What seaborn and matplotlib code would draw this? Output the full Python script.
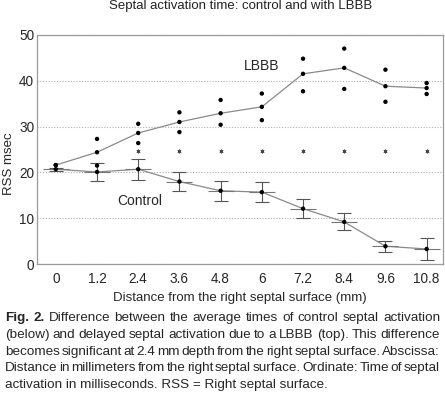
import numpy as np
import pandas as pd
import matplotlib
matplotlib.use("Agg")
import matplotlib.pyplot as plt
import seaborn as sns

sns.set_style("white")
plt.rcParams["font.family"] = ["Liberation Sans", "DejaVu Sans"]

# distance from right septal surface (mm)
distance = [0, 1.2, 2.4, 3.6, 4.8, 6, 7.2, 8.4, 9.6, 10.8]
tick_labels = ["0", "1.2", "2.4", "3.6", "4.8", "6", "7.2", "8.4", "9.6", "10.8"]

# LBBB individual values (three per depth) and mean
lbbb_high = [21.6, 27.3, 30.6, 33.1, 35.8, 37.2, 44.8, 47.0, 42.4, 39.5]
lbbb_mean = [21.6, 24.4, 28.6, 31.0, 32.9, 34.3, 41.5, 42.8, 38.8, 38.4]
lbbb_low = [21.6, 21.5, 26.4, 28.8, 30.4, 31.4, 37.7, 38.2, 35.4, 37.1]

# control mean and error
ctrl_mean = [20.7, 20.1, 20.7, 18.0, 16.0, 15.7, 12.1, 9.2, 3.9, 3.3]
ctrl_err = [0.3, 2.05, 2.3, 2.1, 2.2, 2.25, 2.0, 1.85, 1.15, 2.4]

# significance marks
star_distance = [2.4, 3.6, 4.8, 6, 7.2, 8.4, 9.6, 10.8]
star_level = [24.7] * len(star_distance)

dots = pd.DataFrame({
    "x": distance * 3,
    "y": lbbb_high + lbbb_mean + lbbb_low,
})

fig = plt.figure(figsize=(4.45, 3.96), dpi=100)
ax = fig.add_axes([0.083, 0.333, 0.912, 0.579])

ax.yaxis.grid(True, linestyle=(0, (1, 1.5)), color="#b0b0b0", linewidth=0.8)
ax.set_axisbelow(True)

sns.lineplot(x=distance, y=lbbb_mean, ax=ax, color="#8a8a8a", linewidth=0.9)
sns.lineplot(x=distance, y=ctrl_mean, ax=ax, color="#8a8a8a", linewidth=0.9)
ax.errorbar(distance, ctrl_mean, yerr=ctrl_err, fmt="none", ecolor="#555555",
            elinewidth=0.8, capsize=5, capthick=0.8)
ax.plot(distance, ctrl_mean, linestyle="none", marker="_", markersize=19,
        markeredgewidth=0.8, color="#777777")
sns.scatterplot(data=dots, x="x", y="y", ax=ax, color="black", s=10,
                edgecolor="none", zorder=5)
sns.scatterplot(x=distance, y=ctrl_mean, ax=ax, color="black", s=10,
                edgecolor="none", zorder=5)
sns.scatterplot(x=star_distance, y=star_level, ax=ax, marker=(6, 2, 0), s=6,
                color="#444444", linewidth=0.5, zorder=5)

ax.text(6.0, 43.3, "LBBB", fontsize=10, ha="center", va="center")
ax.text(2.45, 13.8, "Control", fontsize=10, ha="center", va="center")

ax.set_xlim(-0.55, 11.27)
ax.set_ylim(0, 50)
ax.set_xticks(distance)
ax.set_xticklabels(tick_labels)
ax.set_yticks([0, 10, 20, 30, 40, 50])
ax.tick_params(axis="both", labelsize=9.8, length=0, pad=6)
ax.tick_params(axis="y", pad=2)
for s in ax.spines.values():
    s.set_color("#9a9a9a")
    s.set_linewidth(0.9)

ax.set_xlabel("Distance from the right septal surface (mm)", fontsize=9.5, labelpad=4)
ax.set_ylabel("RSS msec", fontsize=9.5, labelpad=4)
ax.yaxis.set_label_coords(-0.054, 0.44)

fig.text(0.54, 0.985, "Septal activation time: control and with LBBB",
         fontsize=9.5, ha="center", va="center", color="#222222")

caption = [
    "**Fig. **2. Difference between the average times of control septal activation",
    "(below) and delayed septal activation due to a LBBB (top). This difference",
    "becomes significant at 2.4 mm depth from the right septal surface. Abscissa:",
    "Distance in millimeters from the right septal surface. Ordinate: Time of septal",
    "activation in milliseconds. RSS = Right septal surface.",
]

cap_size = 9.7
renderer = fig.canvas.get_renderer()
x0, x1 = 5 / 445, 440 / 445
ys = [318.3, 335.0, 351.7, 368.3, 385.0]
for i, line in enumerate(caption):
    y = 1 - ys[i] / 396
    if i == len(caption) - 1:
        # last line is left aligned, not stretched
        fig.text(x0, y, line, fontsize=cap_size, va="center", ha="left")
        continue
    words = []
    for w in line.replace("**Fig. **2.", "**Fig.** **2.**").split(" "):
        bold = w.startswith("**")
        words.append((w.strip("*"), "bold" if bold else "normal"))
    texts = [fig.text(0, y, w, fontsize=cap_size, weight=wt, va="center", ha="left")
             for w, wt in words]
    widths = [t.get_window_extent(renderer).width / fig.bbox.width for t in texts]
    gap = (x1 - x0 - sum(widths)) / (len(words) - 1)
    x = x0
    for t, wd in zip(texts, widths):
        t.set_x(x)
        x += wd + gap

fig.savefig("out.png", dpi=100)
